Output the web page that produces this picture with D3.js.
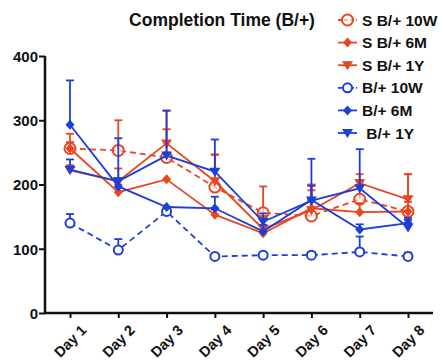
<!DOCTYPE html>
<html>
<head>
<meta charset="utf-8">
<script src="https://cdn.jsdelivr.net/npm/d3@7"></script>
<style>
body { margin: 0; background: #fff; }
text { font-family: "Liberation Sans", Arial, sans-serif; font-weight: bold; }
</style>
</head>
<body>
<script>
var width = 443, height = 361;
var days = ["Day 1", "Day 2", "Day 3", "Day 4", "Day 5", "Day 6", "Day 7", "Day 8"];
var yTicks = [0, 100, 200, 300, 400];

// means and upper error bars
var sB10W = [256, 253, 242, 196, 156, 151, 177, 158];
var sB10WErr = [23, 47, 44, 50, 41, 40, 30, 15];
var sB6M = [256, 188, 208, 153, 124, 163, 157, 158];
var sB6MErr = [10, 12, 0, 8, 12, 36, 14, 58];
var sB1Y = [222, 205, 264, 205, 131, 160, 202, 177];
var sB1YErr = [8, 20, 51, 42, 20, 40, 14, 39];
var b10W = [140, 98, 158, 88, 90, 90, 95, 88];
var b10WErr = [14, 17, 0, 4, 4, 5, 24, 6];
var b6M = [293, 197, 165, 163, 127, 176, 130, 140];
var b6MErr = [69, 10, 0, 18, 10, 22, 8, 8];
var b1Y = [223, 205, 245, 220, 142, 175, 194, 133];
var b1YErr = [16, 67, 70, 50, 13, 65, 61, 12];

var red = "#e8461f", blue = "#1c3ed9";

var series = [
  { name: "S B/+ 10W", vals: sB10W, err: sB10WErr, color: red, sym: "circle", dash: true },
  { name: "S B/+ 6M", vals: sB6M, err: sB6MErr, color: red, sym: "diamond", dash: false },
  { name: "S B/+ 1Y", vals: sB1Y, err: sB1YErr, color: red, sym: "tri", dash: false },
  { name: "B/+ 10W", vals: b10W, err: b10WErr, color: blue, sym: "circleSmall", dash: true },
  { name: "B/+ 6M", vals: b6M, err: b6MErr, color: blue, sym: "diamond", dash: false },
  { name: " B/+ 1Y", vals: b1Y, err: b1YErr, color: blue, sym: "tri", dash: false }
];

var svg = d3.select("body").append("svg")
    .attr("width", width)
    .attr("height", height);

var x = d3.scalePoint().domain(days).range([70, 408]);
var y = d3.scaleLinear().domain([0, 400]).range([313, 56]);

// axes
var yAxis = svg.append("g")
    .attr("transform", "translate(45,0)")
    .call(d3.axisLeft(y).tickValues(yTicks).tickSize(6).tickPadding(1));
yAxis.select(".domain").attr("stroke", "#111").attr("stroke-width", 2.5).attr("d", "M0," + y(400) + "V" + y(0));
yAxis.selectAll(".tick line").attr("stroke", "#111").attr("stroke-width", 2);
yAxis.selectAll(".tick text").attr("font-size", 15).attr("fill", "#111").attr("dy", "0.36em");

var xAxis = svg.append("g")
    .attr("transform", "translate(0," + y(0) + ")")
    .call(d3.axisBottom(x).tickSize(5).tickPadding(4));
xAxis.select(".domain").attr("stroke", "#111").attr("stroke-width", 2.5).attr("d", "M44,0H433");
xAxis.selectAll(".tick line").attr("stroke", "#111").attr("stroke-width", 2);
xAxis.selectAll(".tick text")
    .attr("font-size", 14.5)
    .attr("fill", "#111")
    .attr("text-anchor", "end")
    .attr("transform", "translate(5,6) rotate(-45)")
    .attr("dy", "0.55em");

function drawSymbol(g, sym, color, cx, cy) {
  if (sym == "circle") {
    g.append("circle").attr("cx", cx).attr("cy", cy).attr("r", 5.5)
      .attr("fill", "#fff").attr("fill-opacity", 0.6).attr("stroke", color).attr("stroke-width", 2);
  } else if (sym == "circleSmall") {
    g.append("circle").attr("cx", cx).attr("cy", cy).attr("r", 4.5)
      .attr("fill", "#fff").attr("stroke", color).attr("stroke-width", 2);
  } else if (sym == "diamond") {
    g.append("path").attr("d", "M" + cx + "," + (cy - 5) + "L" + (cx + 4.5) + "," + cy + "L" + cx + "," + (cy + 5) + "L" + (cx - 4.5) + "," + cy + "Z")
      .attr("fill", color);
  } else {
    g.append("path").attr("d", "M" + (cx - 5.5) + "," + (cy - 4) + "L" + (cx + 5.5) + "," + (cy - 4) + "L" + cx + "," + (cy + 5) + "Z")
      .attr("fill", color);
  }
}

var line = d3.line()
    .x(function (d, i) { return x(days[i]); })
    .y(function (d) { return y(d); });

series.forEach(function (s) {
  var g = svg.append("g");
  // error bars (upper)
  s.vals.forEach(function (v, i) {
    if (!s.err[i]) return;
    var cx = x(days[i]), top = y(v + s.err[i]);
    g.append("line").attr("x1", cx).attr("x2", cx).attr("y1", y(v)).attr("y2", top)
      .attr("stroke", s.color).attr("stroke-width", 1.8);
    g.append("line").attr("x1", cx - 4).attr("x2", cx + 4).attr("y1", top).attr("y2", top)
      .attr("stroke", s.color).attr("stroke-width", 1.8);
  });
  g.append("path").datum(s.vals)
    .attr("d", line)
    .attr("fill", "none")
    .attr("stroke", s.color)
    .attr("stroke-width", 1.8)
    .attr("stroke-dasharray", s.dash ? "6,4" : null);
  s.vals.forEach(function (v, i) {
    drawSymbol(g, s.sym, s.color, x(days[i]), y(v));
  });
});

// title
svg.append("text")
    .attr("x", 222).attr("y", 26)
    .attr("text-anchor", "middle")
    .attr("font-size", 17.5)
    .attr("fill", "#111")
    .text("Completion Time (B/+)");

// legend
var leg = svg.append("g");
series.forEach(function (s, i) {
  var ly = 20 + i * 22.6;
  leg.append("line").attr("x1", 338).attr("x2", 357).attr("y1", ly).attr("y2", ly)
    .attr("stroke", s.color).attr("stroke-width", 1.8)
    .attr("stroke-dasharray", s.dash ? "4,2" : null);
  drawSymbol(leg, s.sym, s.color, 347.5, ly);
  leg.append("text").attr("x", 362).attr("y", ly).attr("dy", "0.36em")
    .attr("font-size", 15.5).attr("fill", "#111")
    .style("white-space", "pre")
    .text(s.name);
});
</script>
</body>
</html>
